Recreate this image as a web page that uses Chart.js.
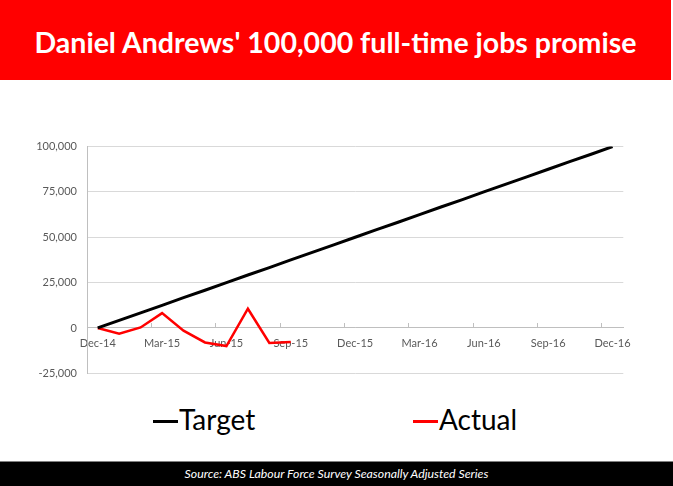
<!DOCTYPE html>
<html>
<head>
<meta charset="utf-8">
<script src="https://cdn.jsdelivr.net/npm/chart.js@4.4.0/dist/chart.umd.min.js"></script>
<style>
  html, body { margin: 0; padding: 0; background: #fff; }
  body { width: 673px; height: 486px; position: relative; overflow: hidden; font-family: Lato, "Open Sans", sans-serif; }
  #banner { position: absolute; left: 0; top: 0; width: 671px; height: 80px; background: #ff0000; color: #fff;
    font-weight: bold; font-size: 28.5px; line-height: 84px; text-align: center; }
  #chartBox { position: absolute; left: 0; top: 130px; width: 673px; height: 260px; }
  #legend { position: absolute; left: 0; top: 400px; width: 673px; height: 40px; }
  .item { position: absolute; top: 0; height: 40px; line-height: 38px; font-size: 28px; color: #000; white-space: nowrap; }
  .swatch { display: inline-block; width: 25px; height: 3px; vertical-align: middle; margin-right: 1px; position: relative; top: -1px; }
  #footer { position: absolute; left: 0; top: 461px; width: 673px; height: 25px; background: #000; border-top: 1px solid #808080;
    color: #fff; font-style: italic; font-size: 12.3px; line-height: 24px; text-align: center; }
</style>
</head>
<body>
<div id="banner">Daniel Andrews' 100,000 full-time jobs promise</div>
<div id="chartBox"><canvas id="jobsChart"></canvas></div>
<div id="legend"></div>
<div id="footer">Source: ABS Labour Force Survey Seasonally Adjusted Series</div>
<script>
// Months Dec-14 .. Dec-16
const months = [
  'Dec-14', 'Jan-15', 'Feb-15', 'Mar-15', 'Apr-15', 'May-15', 'Jun-15', 'Jul-15', 'Aug-15', 'Sep-15',
  'Oct-15', 'Nov-15', 'Dec-15', 'Jan-16', 'Feb-16', 'Mar-16', 'Apr-16', 'May-16', 'Jun-16', 'Jul-16',
  'Aug-16', 'Sep-16', 'Oct-16', 'Nov-16', 'Dec-16'
];

// Cumulative jobs target (straight line to 100,000)
const targetJobs = [
  0, 4200, 8300, 12500, 16700, 20800, 25000, 29200, 33300, 37500, 41700, 45800, 50000,
  54200, 58300, 62500, 66700, 70800, 75000, 79200, 83300, 87500, 91700, 95800, 100000
];

// Actual change in full-time jobs since Dec-14 (to Sep-15)
const actualJobs = [0, -3200, 300, 8200, -1500, -8000, -10000, 10600, -8300, -7800];

const yTicks = [-25000, 0, 25000, 50000, 75000, 100000];

const seriesNames = ['Target', 'Actual'];
const seriesColors = ['#000000', '#ff0000'];

const labelColor = '#595959';
const tickFont = { family: 'Lato', size: 11 };

// Build legend from the series
const legendEl = document.getElementById('legend');
const legendLeft = [153, 413];
seriesNames.forEach((name, i) => {
  const item = document.createElement('div');
  item.className = 'item';
  item.style.left = legendLeft[i] + 'px';
  item.innerHTML = '<span class="swatch" style="background:' + seriesColors[i] + '"></span>' + name;
  legendEl.appendChild(item);
});

new Chart(document.getElementById('jobsChart').getContext('2d'), {
  type: 'line',
  data: {
    labels: months,
    datasets: [{
      label: seriesNames[0],
      data: targetJobs,
      borderColor: seriesColors[0],
      borderWidth: 3,
      pointRadius: 0,
      tension: 0,
      fill: false
    }, {
      label: seriesNames[1],
      data: actualJobs,
      borderColor: seriesColors[1],
      borderWidth: 2.5,
      pointRadius: 0,
      tension: 0,
      fill: false
    }]
  },
  options: {
    responsive: true,
    maintainAspectRatio: false,
    animation: false,
    layout: { padding: { left: 0, top: 13.3, right: 49.7, bottom: 16.7 } },
    plugins: {
      legend: { display: false },
      tooltip: { enabled: false }
    },
    scales: {
      x: {
        position: { y: 0 },
        offset: true,
        afterFit: scale => { scale.height = 0; },
        grid: {
          offset: true,
          drawOnChartArea: false,
          drawTicks: true,
          tickLength: -5,
          color: ctx => ctx.index % 3 === 0 ? '#bfbfbf' : 'rgba(0,0,0,0)'
        },
        border: { color: '#bfbfbf', width: 1 },
        ticks: {
          autoSkip: false,
          maxRotation: 0,
          padding: 14,
          color: labelColor,
          font: tickFont,
          callback: function (value, index) {
            return index % 3 === 0 ? months[index] : '';
          }
        }
      },
      y: {
        min: yTicks[0],
        max: yTicks[yTicks.length - 1],
        afterFit: scale => { scale.width = 87; },
        afterBuildTicks: scale => { scale.ticks = yTicks.map(v => ({ value: v })); },
        grid: { color: '#d9d9d9', drawTicks: false },
        border: { color: '#bfbfbf', width: 1 },
        ticks: {
          padding: 10,
          color: labelColor,
          font: tickFont,
          callback: v => v.toLocaleString('en-US')
        }
      }
    }
  }
});
</script>
</body>
</html>
